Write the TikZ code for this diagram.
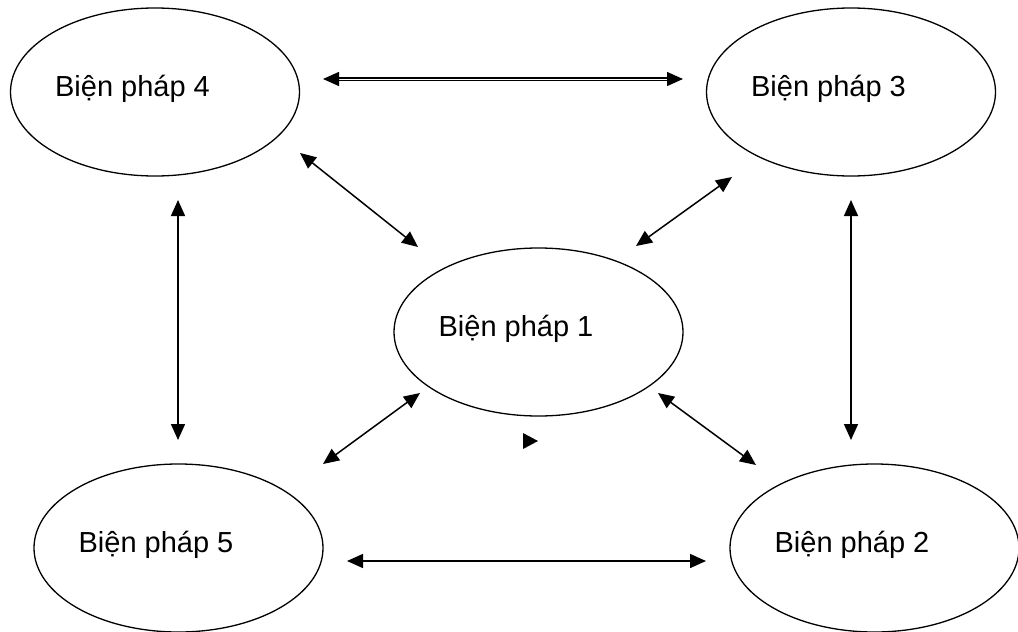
\documentclass[tikz,border=0pt]{standalone}
\usepackage{fontspec}
\setmainfont{Liberation Sans}
\usepackage{tikz}
\usetikzlibrary{shapes.geometric,arrows.meta}

\begin{document}
\begin{tikzpicture}[x=1pt, y=-1pt,
  measure/.style={draw, ellipse, line width=1.3pt, minimum width=289pt, minimum height=168pt, inner sep=0pt},
  lbl/.style={text height=20pt, text depth=6pt, xshift=-22.5pt, yshift=3pt, font=\fontsize{29}{35}\selectfont},
  link/.style={{Triangle[length=16pt,width=14pt]}-{Triangle[length=16pt,width=14pt]}, line width=1.5pt},
  dlink/.style={link, double, double distance=1pt, line width=1.4pt}]
\useasboundingbox (0,0) rectangle (1018,632);
\node[measure, label={[lbl]center:Biện pháp 4}] (m4) at (155,92) {};
\node[measure, label={[lbl]center:Biện pháp 3}] (m3) at (851,92) {};
\node[measure, label={[lbl]center:Biện pháp 1}] (m1) at (538.5,332) {};
\node[measure, label={[lbl]center:Biện pháp 5}] (m5) at (178.5,548) {};
\node[measure, label={[lbl]center:Biện pháp 2}] (m2) at (874.5,548) {};
\draw[dlink] ([shift={(168,-13)}]m4.center) -- ([shift={(-168,-13)}]m3.center);
\draw[link] ([shift={(145,61)}]m4.center) -- ([shift={(-120.5,-85)}]m1.center);
\draw[link] ([shift={(-119,85)}]m3.center) -- ([shift={(97.5,-86)}]m1.center);
\draw[link] ([shift={(23,108)}]m4.center) -- ([shift={(-0.5,-108)}]m5.center);
\draw[link] ([shift={(0,108)}]m3.center) -- ([shift={(-23.5,-108)}]m2.center);
\draw[link] ([shift={(-118.5,61)}]m1.center) -- ([shift={(144.5,-84)}]m5.center);
\draw[link] ([shift={(119.5,61)}]m1.center) -- ([shift={(-118.5,-83)}]m2.center);
\draw[link] ([shift={(168.5,13)}]m5.center) -- ([shift={(-168.5,13)}]m2.center);
\fill (523,433) -- (538,441) -- (523,449) -- cycle;
\end{tikzpicture}
\end{document}
